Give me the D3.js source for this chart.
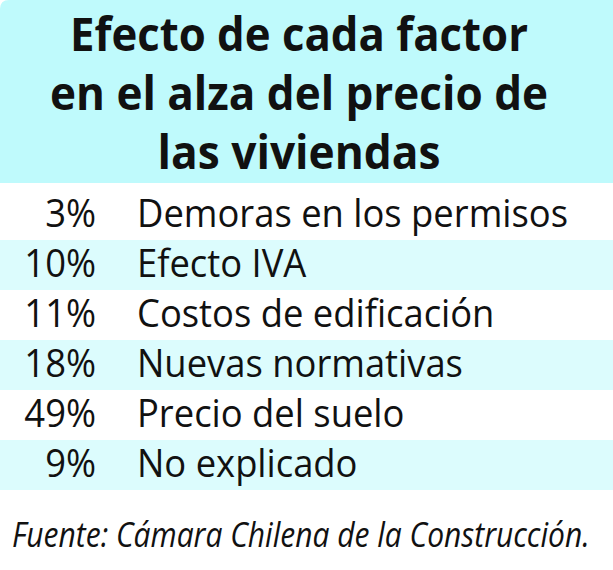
<!DOCTYPE html>
<html>
<head>
<meta charset="utf-8">
<script src="https://cdn.jsdelivr.net/npm/d3@7"></script>
<style>
  body { margin: 0; background: #fff; }
  svg { display: block; }
</style>
</head>
<body>
<div id="chart"></div>
<script>
// Chart data
const titleLines = ['Efecto de cada factor', 'en el alza del precio de', 'las viviendas'];
const factors = ['Demoras en los permisos', 'Efecto IVA', 'Costos de edificación',
  'Nuevas normativas', 'Precio del suelo', 'No explicado'];
const shares = [3, 10, 11, 18, 49, 9];
const source = 'Fuente: Cámara Chilena de la Construcción.';

const width = 613, height = 570;
const headerH = 183;
const rowsTop = 190, rowsBottom = 490;

const svg = d3.select('#chart').append('svg')
    .attr('width', width)
    .attr('height', height);

// Header band with rounded top-left corner
const r = 9;
svg.append('path')
    .attr('d', `M0,${r} Q0,0 ${r},0 L${width},0 L${width},${headerH} L0,${headerH} Z`)
    .attr('fill', '#bffafc');

// Title, squeezed to the width of the condensed face in the original
const titleWidths = [458, 498, 283];
svg.selectAll('.title')
    .data(titleLines)
  .join('text')
    .attr('class', 'title')
    .attr('x', 299)
    .attr('y', (d, i) => 51 + i * 59)
    .attr('text-anchor', 'middle')
    .attr('font-family', '"Open Sans", sans-serif')
    .attr('font-weight', 700)
    .attr('font-size', 46)
    .attr('fill', '#111')
    .attr('textLength', (d, i) => titleWidths[i])
    .attr('lengthAdjust', 'spacingAndGlyphs')
    .text(d => d);

// Rows
const y = d3.scaleBand()
    .domain(factors)
    .range([rowsTop, rowsBottom]);

const rows = svg.selectAll('.row')
    .data(factors.map((f, i) => ({factor: f, share: shares[i], i})))
  .join('g')
    .attr('class', 'row')
    .attr('transform', d => `translate(0,${y(d.factor)})`);

rows.append('rect')
    .attr('width', width)
    .attr('height', y.bandwidth())
    .attr('fill', d => d.i % 2 ? '#dcfcfd' : '#fff');

const bodyFont = {family: '"Open Sans", sans-serif', size: 39};

const pct = rows.append('text')
    .attr('x', 96)
    .attr('y', 37)
    .attr('text-anchor', 'end')
    .attr('font-family', bodyFont.family)
    .attr('font-size', bodyFont.size)
    .attr('fill', '#111')
    .text(d => d.share + '%');

const lab = rows.append('text')
    .attr('x', 137)
    .attr('y', 37)
    .attr('font-family', bodyFont.family)
    .attr('font-size', bodyFont.size)
    .attr('fill', '#111')
    .text(d => d.factor);

// condense the body text uniformly so the first label spans its original width
const squeeze = 431 / lab.node().getComputedTextLength();
lab.each(function() {
  const w = this.getComputedTextLength();
  d3.select(this).attr('textLength', w * squeeze).attr('lengthAdjust', 'spacingAndGlyphs');
});
pct.each(function() {
  const w = this.getComputedTextLength();
  d3.select(this).attr('textLength', w * squeeze).attr('lengthAdjust', 'spacingAndGlyphs');
});

// Source note, narrowed with a horizontal scale
const srcG = svg.append('g');
const src = srcG.append('text')
    .attr('x', 0)
    .attr('y', 0)
    .attr('font-family', '"Open Sans", sans-serif')
    .attr('font-style', 'italic')
    .attr('font-size', 34)
    .attr('fill', '#111')
    .text(source);
const srcScale = 578 / src.node().getComputedTextLength();
srcG.attr('transform', `translate(12,547) scale(${srcScale},1)`);
</script>
</body>
</html>
